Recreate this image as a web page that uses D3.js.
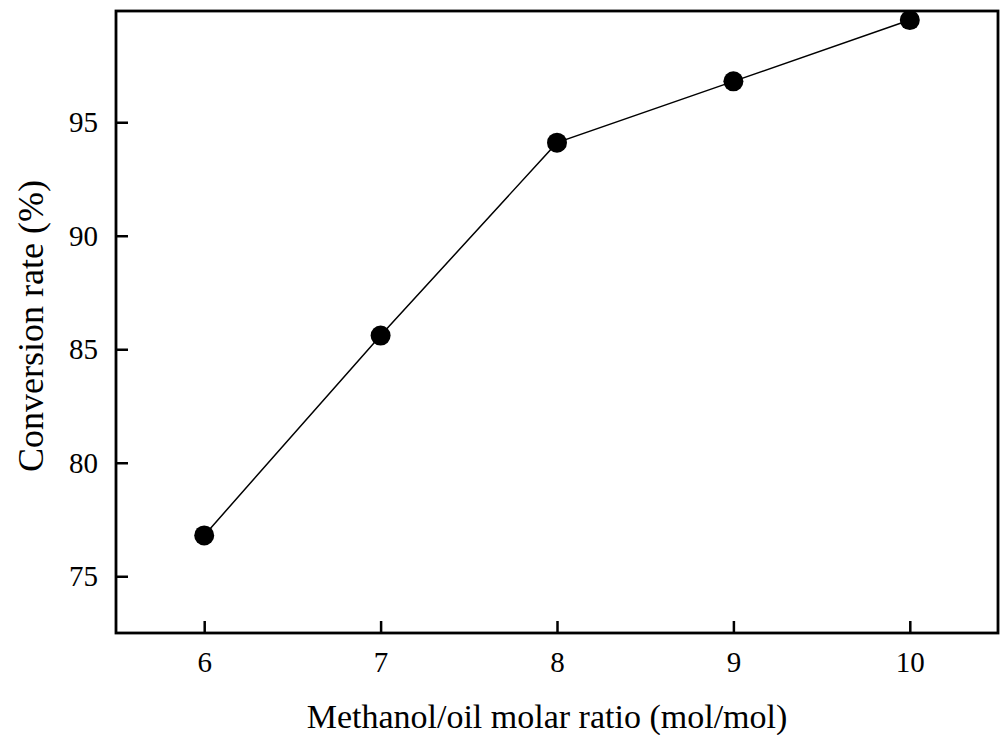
<!DOCTYPE html>
<html>
<head>
<meta charset="utf-8">
<script src="https://cdn.jsdelivr.net/npm/d3@7"></script>
<style>
  body { margin: 0; background: #fff; }
  text { font-family: "Liberation Serif", "Times New Roman", serif; fill: #000; }
</style>
</head>
<body>
<div id="container"></div>
<script>
// data
const ratios = [6, 7, 8, 9, 10];
const conversion = [76.8, 85.6, 94.1, 96.8, 99.5];
const xTicks = [6, 7, 8, 9, 10];
const yTicks = [75, 80, 85, 90, 95];

const w = 1000;
const h = 735;
const margin = {top: 11, left: 116, bottom: 102, right: 2};
const graphWidth = w - margin.left - margin.right;
const graphHeight = h - margin.top - margin.bottom;

const svg = d3.select("#container").append("svg").attr("width", w).attr("height", h);
const graph = svg.append("g").attr("transform", `translate(${margin.left}, ${margin.top})`);

const xScale = d3.scaleLinear().domain([5.5, 10.5]).range([0, graphWidth]);
const yScale = d3.scaleLinear().domain([72.5, 99.9]).range([graphHeight, 0]);

// frame
graph.append("rect")
  .attr("x", 0).attr("y", 0)
  .attr("width", graphWidth).attr("height", graphHeight)
  .attr("fill", "none").attr("stroke", "#000").attr("stroke-width", 2.8);

// axes, ticks pointing inwards
const xAxis = d3.axisBottom(xScale).tickValues(xTicks).tickFormat(d3.format("d")).tickSizeInner(-12).tickSizeOuter(0);
const yAxis = d3.axisLeft(yScale).tickValues(yTicks).tickFormat(d3.format("d")).tickSizeInner(-12).tickSizeOuter(0).tickPadding(18);

const xAxisGroup = graph.append("g").attr("transform", `translate(0, ${graphHeight})`).call(xAxis);
const yAxisGroup = graph.append("g").call(yAxis);

[xAxisGroup, yAxisGroup].forEach(g => {
  g.select(".domain").remove();
  g.selectAll(".tick line").attr("stroke", "#000").attr("stroke-width", 2.5);
  g.selectAll(".tick text").style("font-size", "29px").style("font-family", "Liberation Serif");
});
xAxisGroup.selectAll(".tick text").attr("y", 39).attr("dy", 0);

// line + markers
const pts = ratios.map((r, i) => ({x: r, y: conversion[i]}));
const line = d3.line().x(d => xScale(d.x)).y(d => yScale(d.y));

graph.append("path")
  .datum(pts)
  .attr("d", line)
  .attr("fill", "none")
  .attr("stroke", "#000")
  .attr("stroke-width", 1.5);

graph.selectAll("circle")
  .data(pts)
  .enter()
  .append("circle")
    .attr("cx", d => xScale(d.x))
    .attr("cy", d => yScale(d.y))
    .attr("r", 10)
    .attr("fill", "#000");

// axis titles
svg.append("text")
  .attr("x", 547)
  .attr("y", 728)
  .attr("text-anchor", "middle")
  .style("font-size", "34px")
  .text("Methanol/oil molar ratio (mol/mol)");

svg.append("text")
  .attr("transform", "translate(43, 326) rotate(-90)")
  .attr("text-anchor", "middle")
  .style("font-size", "36px")
  .text("Conversion rate (%)");
</script>
</body>
</html>
